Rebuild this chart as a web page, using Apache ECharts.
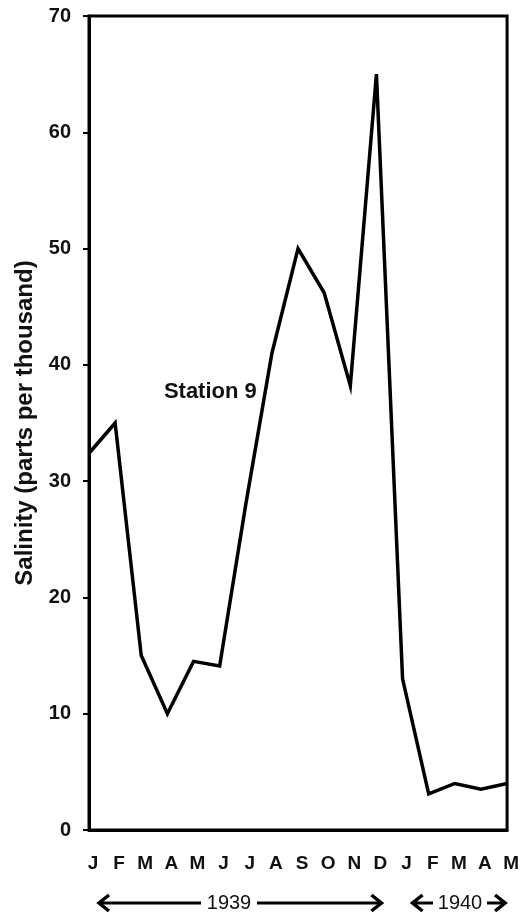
<!DOCTYPE html>
<html>
<head>
<meta charset="utf-8">
<script src="https://cdn.jsdelivr.net/npm/echarts@6/dist/echarts.min.js"></script>
<style>
  html, body { margin: 0; padding: 0; background: #fff; }
  #chart { width: 522px; height: 917px; }
</style>
</head>
<body>
<div id="chart"></div>
<script>
// Monthly salinity at Station 9, January 1939 to May 1940
const months = ['J', 'F', 'M', 'A', 'M', 'J', 'J', 'A', 'S', 'O', 'N', 'D', 'J', 'F', 'M', 'A', 'M'];
const salinity = [32.4, 35, 15, 10, 14.5, 14.1, 28, 41, 50, 46.2, 38.2, 65, 13, 3.1, 4, 3.5, 4];
const yTicks = [0, 10, 20, 30, 40, 50, 60, 70];
const stationName = 'Station 9';
const years = [
  { label: '1939', from: 0, to: 11 },
  { label: '1940', from: 12, to: 16 }
];

const FONT = 'Liberation Sans, Arial, Helvetica, sans-serif';
const chart = echarts.init(document.getElementById('chart'), null, { renderer: 'canvas' });

chart.setOption({
  animation: false,
  backgroundColor: '#fff',
  grid: {
    left: 89, right: 11, top: 16, bottom: 87,
    show: true, borderColor: '#000', borderWidth: 3, backgroundColor: 'transparent'
  },
  xAxis: {
    type: 'category',
    data: months,
    boundaryGap: false,
    axisLine: { lineStyle: { color: '#000', width: 3 } },
    axisTick: { show: false },
    axisLabel: {
      color: '#111', fontFamily: FONT, fontWeight: 'bold', fontSize: 19,
      margin: 24, interval: 0, padding: [0, 0, 0, 8]
    },
    splitLine: { show: false }
  },
  yAxis: {
    type: 'value',
    min: yTicks[0],
    max: yTicks[yTicks.length - 1],
    interval: yTicks[1] - yTicks[0],
    name: 'Salinity (parts per thousand)',
    nameLocation: 'middle',
    nameGap: 41,
    nameTextStyle: { color: '#111', fontFamily: FONT, fontWeight: 'bold', fontSize: 24 },
    axisLine: { show: true, lineStyle: { color: '#000', width: 3 } },
    axisTick: { show: true, length: 6, lineStyle: { color: '#000', width: 2 } },
    axisLabel: { color: '#111', fontFamily: FONT, fontWeight: 'bold', fontSize: 20, margin: 18 },
    splitLine: { show: false }
  },
  series: [{
    type: 'line',
    data: salinity,
    symbol: 'none',
    lineStyle: { color: '#000', width: 3.5, join: 'miter' }
  }]
});

// Year spans drawn beneath the month labels, placed from the category positions
function arrowHead(x, y, dir) {
  return {
    type: 'polyline',
    shape: { points: [[x - dir * 10, y - 8], [x, y], [x - dir * 10, y + 8]] },
    style: { stroke: '#000', lineWidth: 3.5, fill: null, lineJoin: 'miter' }
  };
}

const px = (i) => chart.convertToPixel({ xAxisIndex: 0 }, i);
const yearY = 903;
const elements = [];
const spans = [
  { x0: px(years[0].from) + 10, x1: px(years[0].to) + 5, tx: 229, left: 201, right: 257 },
  { x0: px(years[1].from) + 10, x1: px(years[1].to) - 2, tx: 460, left: 433, right: 487 }
];
spans.forEach((s, i) => {
  elements.push({
    type: 'line',
    shape: { x1: s.x0 + 1, y1: yearY, x2: s.left, y2: yearY },
    style: { stroke: '#000', lineWidth: 3 }
  });
  elements.push({
    type: 'line',
    shape: { x1: s.right, y1: yearY, x2: s.x1 - 1, y2: yearY },
    style: { stroke: '#000', lineWidth: 3 }
  });
  elements.push(arrowHead(s.x0, yearY, -1));
  elements.push(arrowHead(s.x1, yearY, 1));
  elements.push({
    type: 'text',
    x: s.tx, y: yearY,
    style: {
      text: years[i].label, fill: '#111', font: 'normal 20px ' + FONT,
      textAlign: 'center', textVerticalAlign: 'middle'
    }
  });
});

// Station name beside the rising limb of the line
const stationPos = chart.convertToPixel({ xAxisIndex: 0, yAxisIndex: 0 }, [6, 37.7]);
elements.push({
  type: 'text',
  x: stationPos[0] + 11, y: stationPos[1],
  style: {
    text: stationName, fill: '#111', font: 'bold 22px ' + FONT,
    textAlign: 'right', textVerticalAlign: 'middle'
  }
});

chart.setOption({ graphic: elements });
</script>
</body>
</html>
